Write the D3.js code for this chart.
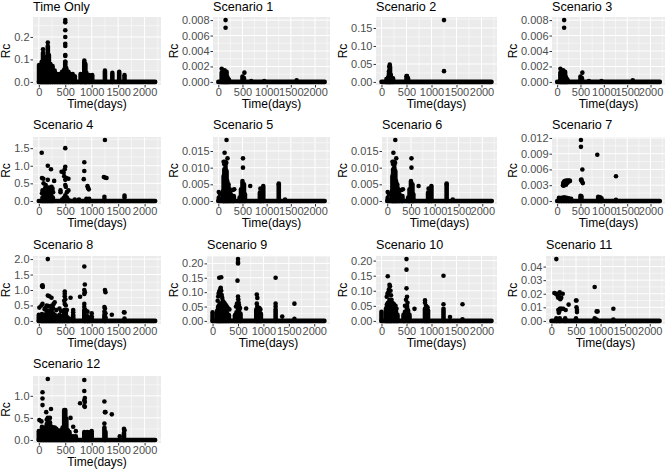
<!DOCTYPE html>
<html>
<head>
<meta charset="utf-8">
<script src="https://cdn.jsdelivr.net/npm/d3@7"></script>
<style>
  html, body { margin: 0; padding: 0; background: #fff; }
  svg { display: block; }
  text { font-family: "Liberation Sans", Arial, sans-serif; }
</style>
</head>
<body>
<div id="chartArea"></div>
<script>
const w = 668;
const h = 471;

const titles = ["Time Only", "Scenario 1", "Scenario 2", "Scenario 3", "Scenario 4", "Scenario 5",
    "Scenario 6", "Scenario 7", "Scenario 8", "Scenario 9", "Scenario 10", "Scenario 11", "Scenario 12"];
const dayRange = [0, 2200];
const xTicks = [0, 500, 1000, 1500, 2000];

// y extent of each panel, its ticks, decimals in the tick labels
const rcMax = [0.275, 0.008, 0.172, 0.008, 1.73, 0.0183, 0.0183, 0.0116, 2.0, 0.215, 0.205, 0.0455, 1.38];
const rcTicks = [
    [0, 0.1, 0.2],
    [0, 0.002, 0.004, 0.006, 0.008],
    [0, 0.05, 0.1, 0.15],
    [0, 0.002, 0.004, 0.006, 0.008],
    [0, 0.5, 1, 1.5],
    [0, 0.005, 0.01, 0.015],
    [0, 0.005, 0.01, 0.015],
    [0, 0.003, 0.006, 0.009, 0.012],
    [0, 0.5, 1, 1.5, 2],
    [0, 0.05, 0.1, 0.15, 0.2],
    [0, 0.05, 0.1, 0.15, 0.2],
    [0, 0.01, 0.02, 0.03, 0.04],
    [0, 0.5, 1]
];
const rcDigits = [1, 3, 2, 3, 1, 3, 3, 3, 1, 2, 2, 2, 1];

// [day, Rc] of the points that can be told apart
const timeOnlyPoints = [[500, 0.275], [500, 0.265], [500, 0.23], [500, 0.2], [500, 0.17], [500, 0.16], [500, 0.12], [500, 0.115], [500, 0.09], [80, 0.145], [170, 0.175]];
const s1Points = [[150, 0.008], [150, 0.007], [70, 0.0017], [540, 0.0012], [1620, 0.0002], [950, 0.0001], [680, 0.0001]];
const s2Points = [[1250, 0.172], [1250, 0.03], [165, 0.048], [155, 0.042], [150, 0.03], [510, 0.016]];
const s3Points = [[150, 0.008], [150, 0.007], [70, 0.0017], [540, 0.0012], [1620, 0.0002], [950, 0.0001], [680, 0.0001]];
const s4Points = [[55, 1.37], [60, 0.65], [85, 0.63], [90, 0.5], [170, 1.0], [230, 0.9], [290, 0.57], [70, 0.3], [60, 0.22], [90, 0.28], [120, 0.37], [130, 0.45], [150, 0.3], [170, 0.6], [175, 0.35], [190, 0.38], [205, 0.25], [225, 0.3], [240, 0.4], [260, 0.35], [270, 0.25], [430, 0.83], [470, 0.8], [500, 1.5], [500, 0.97], [490, 0.9], [480, 0.7], [500, 0.6], [520, 0.65], [560, 0.63], [500, 0.45], [510, 0.4], [560, 0.3], [530, 0.25], [410, 0.3], [410, 0.25], [860, 1.1], [860, 0.85], [850, 0.62], [920, 0.42], [930, 0.37], [945, 0.33], [1250, 1.73], [1230, 0.68], [1260, 0.66], [1280, 0.65], [1620, 0.15], [1620, 0.1], [1240, 0.12]];
const s5Points = [[170, 0.0183], [130, 0.0145], [190, 0.0128], [110, 0.0118], [125, 0.011], [140, 0.0118], [150, 0.0108], [165, 0.0115], [510, 0.0128], [510, 0.01], [660, 0.0045], [10, 0.0027], [40, 0.002], [930, 0.0045], [870, 0.0037], [1250, 0.0052], [1380, 0.0004], [330, 0.0035], [300, 0.0033]];
const s6Points = [[170, 0.0183], [130, 0.0145], [190, 0.0128], [110, 0.0118], [125, 0.011], [140, 0.0118], [150, 0.0108], [165, 0.0115], [510, 0.0128], [510, 0.01], [660, 0.0045], [10, 0.0027], [40, 0.002], [930, 0.0045], [870, 0.0037], [1250, 0.0052], [1380, 0.0004], [330, 0.0035], [300, 0.0033]];
const s7Points = [[510, 0.0116], [510, 0.0103], [540, 0.006], [860, 0.0088], [1260, 0.0047], [125, 0.003], [130, 0.0034], [140, 0.0029], [145, 0.0036], [155, 0.0031], [160, 0.0038], [170, 0.0033], [180, 0.0037], [190, 0.0031], [195, 0.0039], [205, 0.0034], [215, 0.0038], [225, 0.0035], [235, 0.0039], [250, 0.0037], [265, 0.0039], [275, 0.0038], [510, 0.004], [520, 0.0041], [530, 0.0037], [550, 0.0034]];
const s8Points = [[170, 2.0], [860, 1.76], [60, 1.13], [70, 1.15], [75, 1.1], [870, 1.18], [860, 1.0], [870, 0.93], [860, 0.87], [1250, 1.0], [1260, 0.93], [490, 0.95], [490, 0.88], [490, 0.8], [600, 0.75], [780, 0.78], [170, 0.82], [200, 0.8], [240, 0.75], [1380, 0.2], [1610, 0.28], [1620, 0.27], [1240, 0.45], [1250, 0.4], [10, 0.43], [50, 0.5], [70, 0.55], [150, 0.5], [300, 0.6], [280, 0.55], [110, 0.38], [130, 0.42], [180, 0.48], [210, 0.46], [250, 0.5], [270, 0.42], [330, 0.35], [390, 0.4], [420, 0.32], [480, 0.65], [490, 0.55], [500, 0.7], [510, 0.5], [530, 0.35], [650, 0.35], [650, 0.28], [860, 0.55], [860, 0.45], [880, 0.35], [920, 0.3], [1000, 0.25], [1240, 0.3], [1260, 0.25]];
const s9Points = [[130, 0.15], [170, 0.152], [500, 0.215], [500, 0.205], [500, 0.2], [490, 0.14], [1240, 0.15], [1610, 0.06], [660, 0.043], [1370, 0.015], [870, 0.092], [880, 0.08], [100, 0.07], [110, 0.085], [120, 0.095], [130, 0.1], [140, 0.105], [150, 0.11], [160, 0.115], [170, 0.105], [180, 0.09], [190, 0.08], [200, 0.07], [220, 0.065], [240, 0.06], [260, 0.055], [280, 0.05], [300, 0.045], [330, 0.04], [460, 0.05], [480, 0.06], [500, 0.085], [505, 0.075], [510, 0.065], [520, 0.055], [540, 0.045], [870, 0.06], [880, 0.05], [920, 0.045], [940, 0.04], [1240, 0.06], [1240, 0.05], [1610, 0.007]];
const s10Points = [[125, 0.148], [500, 0.205], [500, 0.17], [500, 0.108], [1240, 0.15], [1620, 0.055], [660, 0.04], [1370, 0.013], [870, 0.068], [105, 0.08], [120, 0.09], [135, 0.095], [150, 0.105], [160, 0.12], [170, 0.115], [180, 0.1], [190, 0.085], [200, 0.07], [220, 0.06], [250, 0.055], [280, 0.05], [300, 0.04], [470, 0.05], [490, 0.07], [510, 0.08], [520, 0.06], [870, 0.06], [890, 0.05], [920, 0.045], [1240, 0.055], [1620, 0.005]];
const s11Points = [[100, 0.0455], [60, 0.0205], [90, 0.02], [120, 0.02], [140, 0.017], [170, 0.021], [200, 0.017], [230, 0.02], [180, 0.016], [150, 0.019], [130, 0.018], [880, 0.025], [920, 0.007], [940, 0.007], [1260, 0.009], [500, 0.015], [510, 0.015], [350, 0.012], [290, 0.008], [510, 0.01], [520, 0.008], [140, 0.008], [170, 0.009], [190, 0.009], [210, 0.009], [240, 0.009], [150, 0.006], [160, 0.007], [520, 0.0065]];
const s12Points = [[170, 1.38], [860, 1.36], [70, 1.08], [70, 0.94], [70, 0.79], [860, 1.11], [870, 0.95], [860, 0.9], [870, 0.86], [860, 0.77], [870, 0.75], [780, 0.83], [1240, 0.87], [1250, 0.63], [1260, 0.63], [1380, 0.58], [140, 0.63], [230, 0.7], [600, 0.5], [650, 0.3], [700, 0.2], [1240, 0.37], [1610, 0.25], [1620, 0.22], [1530, 0.08], [1000, 0.2], [980, 0.18], [10, 0.45], [50, 0.42], [170, 0.5], [210, 0.5], [150, 0.46]];

// [day, top Rc] where the points overlap into a solid column down to zero
const timeOnlyStacks = [[5, 0.075], [30, 0.06], [55, 0.09], [80, 0.13], [105, 0.11], [130, 0.09], [150, 0.11], [170, 0.16], [190, 0.12], [220, 0.08], [260, 0.07], [300, 0.05], [350, 0.035], [400, 0.035], [440, 0.045], [480, 0.055], [500, 0.09], [520, 0.06], [560, 0.045], [600, 0.035], [640, 0.035], [680, 0.025], [790, 0.035], [820, 0.03], [860, 0.095], [880, 0.08], [900, 0.04], [950, 0.03], [1010, 0.03], [1250, 0.05], [1390, 0.04], [1520, 0.045], [1620, 0.03]];
const s1Stacks = [[70, 0.0012], [100, 0.0012], [130, 0.0015], [150, 0.001], [170, 0.0013], [190, 0.0006], [220, 0.0003], [500, 0.0007], [530, 0.0005]];
const s2Stacks = [[100, 0.008], [130, 0.012], [150, 0.025], [170, 0.042], [185, 0.02], [230, 0.01], [500, 0.016], [530, 0.01]];
const s3Stacks = [[70, 0.0012], [100, 0.0012], [130, 0.0015], [150, 0.001], [170, 0.0013], [190, 0.0006], [220, 0.0003], [500, 0.0007], [530, 0.0005]];
const s4Stacks = [[70, 0.1], [100, 0.15], [130, 0.2], [165, 0.18], [200, 0.12], [235, 0.15], [265, 0.1], [440, 0.04], [470, 0.08], [500, 0.16], [530, 0.1], [560, 0.03], [680, 0.04], [760, 0.04], [900, 0.06], [950, 0.06], [1240, 0.05]];
const s5Stacks = [[10, 0.001], [100, 0.003], [110, 0.0075], [125, 0.0095], [150, 0.01], [170, 0.009], [185, 0.006], [210, 0.005], [235, 0.0035], [260, 0.002], [300, 0.001], [320, 0.0015], [440, 0.001], [470, 0.0035], [500, 0.006], [530, 0.005], [550, 0.002], [860, 0.0025], [880, 0.001], [930, 0.004], [1250, 0.005]];
const s6Stacks = [[10, 0.001], [100, 0.003], [110, 0.0075], [125, 0.0095], [150, 0.01], [170, 0.009], [185, 0.006], [210, 0.005], [235, 0.0035], [260, 0.002], [300, 0.001], [320, 0.0015], [440, 0.001], [470, 0.0035], [500, 0.006], [530, 0.005], [550, 0.002], [860, 0.0025], [880, 0.001], [930, 0.004], [1250, 0.005]];
const s7Stacks = [[40, 0.0006], [100, 0.0006], [150, 0.0007], [200, 0.0006], [250, 0.0005], [300, 0.0004], [500, 0.001], [520, 0.0009], [880, 0.0008], [920, 0.0007], [950, 0.0005], [1260, 0.0002]];
const s8Stacks = [[0, 0.2], [60, 0.22], [90, 0.15], [120, 0.2], [150, 0.3], [180, 0.32], [210, 0.3], [240, 0.35], [270, 0.25], [300, 0.2], [330, 0.15], [360, 0.12], [390, 0.2], [420, 0.15], [450, 0.15], [480, 0.35], [510, 0.3], [540, 0.12], [570, 0.08], [650, 0.2], [860, 0.35], [885, 0.15], [920, 0.15], [950, 0.1], [1000, 0.15], [1240, 0.2], [1260, 0.12], [1620, 0.08]];
const s9Stacks = [[0, 0.03], [90, 0.035], [110, 0.05], [130, 0.055], [150, 0.06], [170, 0.06], [190, 0.055], [220, 0.045], [250, 0.035], [280, 0.03], [320, 0.02], [440, 0.02], [470, 0.03], [500, 0.05], [520, 0.04], [550, 0.025], [860, 0.04], [890, 0.025], [920, 0.035], [950, 0.025], [1240, 0.04]];
const s10Stacks = [[0, 0.03], [90, 0.04], [110, 0.055], [130, 0.06], [160, 0.07], [180, 0.065], [200, 0.05], [230, 0.045], [260, 0.035], [290, 0.03], [320, 0.02], [440, 0.02], [470, 0.03], [510, 0.05], [530, 0.035], [560, 0.02], [870, 0.04], [900, 0.03], [930, 0.035], [1240, 0.04]];
const s11Stacks = [[100, 0.002], [170, 0.002], [280, 0.002], [500, 0.002], [880, 0.002], [920, 0.001], [1260, 0.001]];
const s12Stacks = [[0, 0.2], [30, 0.18], [60, 0.3], [90, 0.22], [120, 0.28], [150, 0.36], [180, 0.4], [210, 0.4], [240, 0.3], [270, 0.28], [300, 0.28], [330, 0.25], [360, 0.22], [390, 0.18], [420, 0.22], [450, 0.28], [480, 0.68], [500, 0.68], [520, 0.48], [550, 0.22], [580, 0.18], [610, 0.08], [650, 0.08], [700, 0.08], [860, 0.18], [890, 0.16], [920, 0.18], [950, 0.16], [1000, 0.16], [1240, 0.28], [1260, 0.18], [1610, 0.16]];

const allPoints = [timeOnlyPoints, s1Points, s2Points, s3Points, s4Points, s5Points, s6Points, s7Points, s8Points, s9Points, s10Points, s11Points, s12Points];
const allStacks = [timeOnlyStacks, s1Stacks, s2Stacks, s3Stacks, s4Stacks, s5Stacks, s6Stacks, s7Stacks, s8Stacks, s9Stacks, s10Stacks, s11Stacks, s12Stacks];

// Rc title baseline per column, the panel then starts after the tick labels
const rcBaseline = [10, 178, 347, 517];
const colRight = [161, 330, 497, 665];
const rowTop = [17, 137, 256, 376];
const rowBottom = [85, 204, 324, 443];
const titleBaseline = [11, 129, 249, 368];

const pointSize = 4.6;

var svg = d3.select("#chartArea")
    .append("svg")
    .attr("width", w)
    .attr("height", h);

titles.forEach(function(title, i) {
    var col = i % 4;
    var row = Math.floor(i / 4);
    var x0 = rcBaseline[col] + 17 + 6 * rcDigits[i], x1 = colRight[col], y0 = rowTop[row], y1 = rowBottom[row];

    var x = d3.scaleLinear()
        .domain([dayRange[0] - 0.05 * dayRange[1], dayRange[1] * 1.05])
        .range([x0, x1]);
    var y = d3.scaleLinear()
        .domain([-0.05 * rcMax[i], rcMax[i] * 1.05])
        .range([y1, y0]);

    var g = svg.append("g");

    g.append("rect")
        .attr("x", x0)
        .attr("y", y0)
        .attr("width", x1 - x0)
        .attr("height", y1 - y0)
        .attr("fill", "#ebebeb");

    // minor grid sits halfway between the major lines
    var yStep = rcTicks[i][1] - rcTicks[i][0];
    var yMinor = d3.range(-1, rcTicks[i].length + 1)
        .map(function(k) { return (k + 0.5) * yStep; })
        .filter(function(v) { return v > y.domain()[0] && v < y.domain()[1]; });
    var xMinor = d3.range(-1, xTicks.length + 1)
        .map(function(k) { return (k + 0.5) * 500; })
        .filter(function(v) { return v > x.domain()[0] && v < x.domain()[1]; });

    g.selectAll(".minorY").data(yMinor).enter().append("line")
        .attr("x1", x0).attr("x2", x1)
        .attr("y1", function(d) { return y(d); })
        .attr("y2", function(d) { return y(d); })
        .attr("stroke", "#fff").attr("stroke-width", 0.5);
    g.selectAll(".minorX").data(xMinor).enter().append("line")
        .attr("y1", y0).attr("y2", y1)
        .attr("x1", function(d) { return x(d); })
        .attr("x2", function(d) { return x(d); })
        .attr("stroke", "#fff").attr("stroke-width", 0.5);
    g.selectAll(".majorY").data(rcTicks[i]).enter().append("line")
        .attr("x1", x0).attr("x2", x1)
        .attr("y1", function(d) { return y(d); })
        .attr("y2", function(d) { return y(d); })
        .attr("stroke", "#fff").attr("stroke-width", 1);
    g.selectAll(".majorX").data(xTicks).enter().append("line")
        .attr("y1", y0).attr("y2", y1)
        .attr("x1", function(d) { return x(d); })
        .attr("x2", function(d) { return x(d); })
        .attr("stroke", "#fff").attr("stroke-width", 1);

    // the run of points sitting on Rc = 0
    g.append("line")
        .attr("x1", x(dayRange[0])).attr("x2", x(dayRange[1]))
        .attr("y1", y(0)).attr("y2", y(0))
        .attr("stroke", "#000")
        .attr("stroke-width", pointSize)
        .attr("stroke-linecap", "round");

    g.selectAll(".stack").data(allStacks[i]).enter().append("line")
        .attr("x1", function(d) { return x(d[0]); })
        .attr("x2", function(d) { return x(d[0]); })
        .attr("y1", y(0))
        .attr("y2", function(d) { return y(d[1]); })
        .attr("stroke", "#000")
        .attr("stroke-width", pointSize)
        .attr("stroke-linecap", "round");

    g.selectAll(".point").data(allPoints[i]).enter().append("circle")
        .attr("cx", function(d) { return x(d[0]); })
        .attr("cy", function(d) { return y(d[1]); })
        .attr("r", pointSize / 2)
        .attr("fill", "#000");

    var yAxis = g.append("g")
        .attr("transform", "translate(" + x0 + ",0)")
        .call(d3.axisLeft(y)
            .tickValues(rcTicks[i])
            .tickFormat(d3.format("." + rcDigits[i] + "f"))
            .tickSize(2.5)
            .tickPadding(1));
    var xAxis = g.append("g")
        .attr("transform", "translate(0," + y1 + ")")
        .call(d3.axisBottom(x)
            .tickValues(xTicks)
            .tickFormat(d3.format("d"))
            .tickSize(2.5)
            .tickPadding(1));

    [yAxis, xAxis].forEach(function(axis) {
        axis.select(".domain").remove();
        axis.selectAll("line").attr("stroke", "#333333");
        axis.selectAll("text")
            .attr("fill", "#4d4d4d")
            .style("font-size", "11px")
            .style("font-family", '"Liberation Sans", Arial, sans-serif');
    });

    g.append("text")
        .attr("x", x0)
        .attr("y", titleBaseline[row])
        .attr("font-size", "12.6px")
        .attr("fill", "#000")
        .text(title);

    g.append("text")
        .attr("x", (x0 + x1) / 2)
        .attr("y", y1 + 23)
        .attr("text-anchor", "middle")
        .attr("font-size", "12px")
        .attr("fill", "#000")
        .text("Time(days)");

    g.append("text")
        .attr("transform", "translate(" + rcBaseline[col] + "," + (y0 + y1) / 2 + ") rotate(-90)")
        .attr("text-anchor", "middle")
        .attr("font-size", "12px")
        .attr("fill", "#000")
        .text("Rc");
});
</script>
</body>
</html>
